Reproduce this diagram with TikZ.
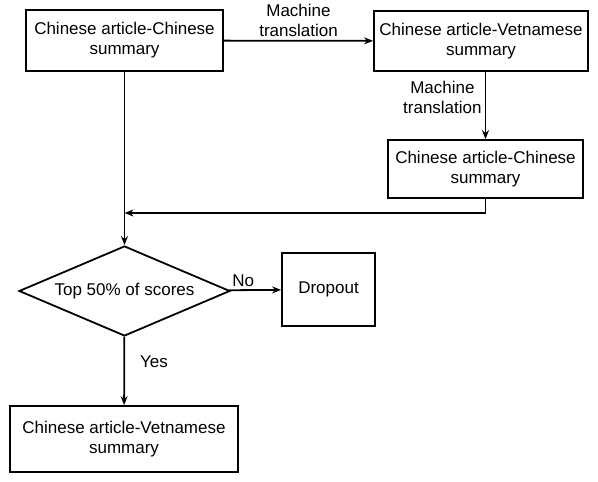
\documentclass[tikz,border=0pt]{standalone}
\usepackage{fontspec}
\setmainfont{Liberation Sans}
\usepackage{tikz}
\usetikzlibrary{shapes.geometric,arrows.meta}

\tikzset{
  box/.style={draw, line width=1.8pt, align=center, inner sep=0pt},
  arr/.style={line width=1.8pt, -{Stealth[length=9pt,width=7pt]}},
  lbl/.style={align=center, inner sep=3pt},
}

\begin{document}
\begin{tikzpicture}[x=1pt,y=-1pt,font=\fontsize{17}{20}\selectfont]
\useasboundingbox (0,0) rectangle (598,482);

\node[box, minimum width=197pt, minimum height=61pt] (zhzh) at (124.5,40.5) {Chinese article-Chinese\\summary};
\node[box, minimum width=214pt, minimum height=60pt] (zhvi) at (481,41) {Chinese article-Vetnamese\\summary};
\node[box, minimum width=195pt, minimum height=58pt] (back) at (485.5,169) {Chinese article-Chinese\\summary};
\node[draw, line width=1.8pt, shape=diamond, aspect=2.34, inner sep=0pt, minimum width=211pt, minimum height=90pt] (top) at (124.5,291) {Top 50\% of scores};
\node[box, minimum width=93pt, minimum height=73pt] (drop) at (328.5,289.5) {Dropout};
\node[box, minimum width=228pt, minimum height=66pt] (final) at (124,439) {Chinese article-Vetnamese\\summary};
\coordinate (merge) at (124.5,213);

\draw[arr] (zhzh) -- node[lbl, above] {Machine\\translation} (zhvi);
\draw[arr] (zhvi.south -| back.north) -- node[lbl, left, pos=0.38] {Machine\\translation} (back);
\draw[arr] (back.south) |- (merge);
\draw[arr] (zhzh) -- (top);
\draw[arr] (top) -- node[lbl, above, pos=0.27] {No} (drop);
\draw[arr] (top) -- node[lbl, right, pos=0.37, xshift=12pt] {Yes} (final);
\end{tikzpicture}
\end{document}
